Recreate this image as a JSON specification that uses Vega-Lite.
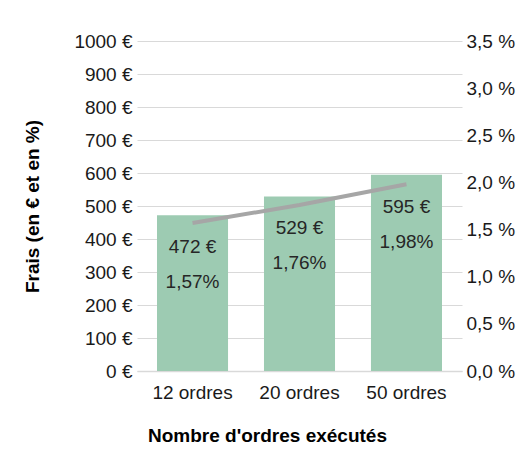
{
  "$schema": "https://vega.github.io/schema/vega-lite/v6.json",
  "width": 325,
  "height": 330,
  "autosize": {"type": "none"},
  "padding": {"left": 137, "top": 41, "right": 67, "bottom": 78},
  "background": "white",
  "data": {
    "values": [
      {"ordres": "12 ordres", "frais": 472, "pct": 0.0157},
      {"ordres": "20 ordres", "frais": 529, "pct": 0.0176},
      {"ordres": "50 ordres", "frais": 595, "pct": 0.0198}
    ]
  },
  "encoding": {
    "x": {
      "field": "ordres",
      "type": "nominal",
      "sort": null,
      "scale": {"paddingInner": 0.336, "paddingOuter": 0.187},
      "axis": {
        "title": "Nombre d'ordres exécutés",
        "labelAngle": 0,
        "ticks": false,
        "labelPadding": 12,
        "domainColor": "#D9D9D9",
        "domainWidth": 1.5,
        "titleX": 130,
        "titleY": 64,
        "titleAlign": "center",
        "titleBaseline": "middle"
      }
    }
  },
  "layer": [
    {
      "mark": {"type": "bar", "color": "#9DCBB2"},
      "encoding": {
        "y": {
          "field": "frais",
          "type": "quantitative",
          "scale": {"domain": [0, 1000]},
          "axis": {
            "title": "Frais (en € et en %)",
            "values": [0, 100, 200, 300, 400, 500, 600, 700, 800, 900, 1000],
            "format": "$d",
            "ticks": false,
            "domain": false,
            "labelPadding": 5,
            "grid": true,
            "gridColor": "#D9D9D9",
            "titleX": -105,
            "titleBaseline": "middle"
          }
        }
      }
    },
    {
      "mark": {"type": "line", "color": "#A6A6A6", "strokeWidth": 4},
      "encoding": {
        "y": {
          "field": "pct",
          "type": "quantitative",
          "scale": {"domain": [0, 0.035]},
          "axis": {
            "orient": "right",
            "title": null,
            "values": [0, 0.005, 0.01, 0.015, 0.02, 0.025, 0.03, 0.035],
            "labelExpr": "replace(format(datum.value*100, '.1f'), '.', ',') + ' %'",
            "ticks": false,
            "domain": false,
            "grid": false,
            "labelPadding": 4
          }
        }
      }
    },
    {
      "mark": {"type": "text", "dy": 32, "baseline": "middle", "align": "center", "fontSize": 19, "color": "#262626"},
      "encoding": {
        "y": {"field": "frais", "type": "quantitative", "scale": {"domain": [0, 1000]}, "axis": null},
        "text": {"field": "frais", "type": "quantitative", "format": "$d"}
      }
    },
    {
      "mark": {"type": "text", "dy": 67, "baseline": "middle", "align": "center", "fontSize": 19, "color": "#262626"},
      "encoding": {
        "y": {"field": "frais", "type": "quantitative", "scale": {"domain": [0, 1000]}, "axis": null},
        "text": {"field": "pct", "type": "quantitative", "format": ".2%"}
      }
    }
  ],
  "resolve": {"scale": {"y": "independent"}},
  "config": {
    "locale": {
      "number": {"decimal": ",", "thousands": " ", "grouping": [3], "currency": ["", " €"]}
    },
    "font": "Liberation Sans",
    "view": {"stroke": null},
    "axis": {
      "labelFont": "Liberation Sans",
      "labelFontSize": 19,
      "labelColor": "#1a1a1a",
      "titleFont": "Liberation Sans",
      "titleFontSize": 19,
      "titleFontWeight": "bold",
      "titleColor": "#000000"
    }
  }
}
